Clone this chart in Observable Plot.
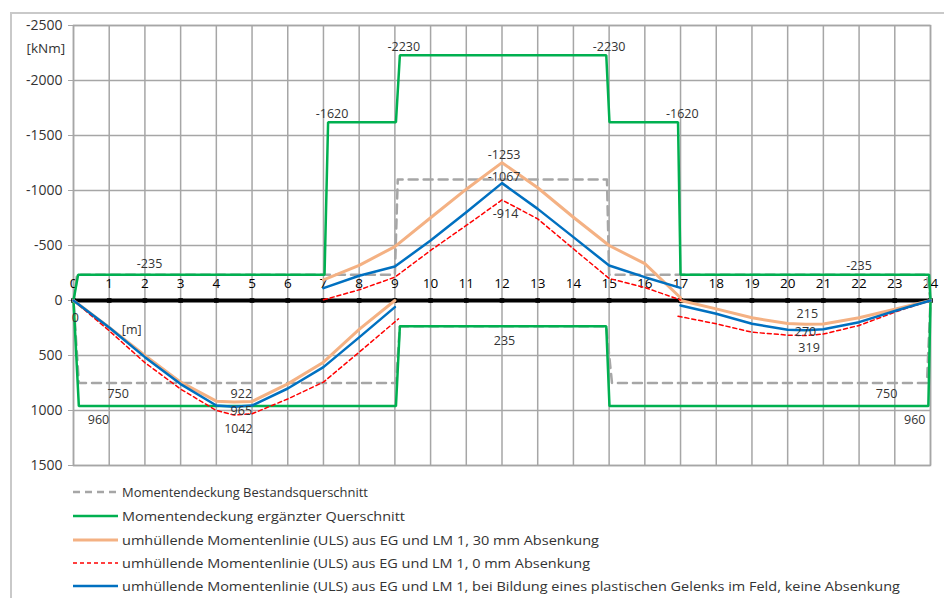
<!DOCTYPE html>
<html><head><meta charset="utf-8">
<script src="https://cdn.jsdelivr.net/npm/d3@7"></script>
<script src="https://cdn.jsdelivr.net/npm/@observablehq/plot@0.6"></script>
<style>
body{margin:0;background:#fff;width:944px;height:598px;overflow:hidden;position:relative;font-family:"Open Sans",sans-serif;}
#frame{position:absolute;left:10px;top:12px;width:1000px;height:1000px;border:2px solid #c9c9c9;box-sizing:border-box;}
#chart{position:absolute;left:0;top:0;}
#legend{position:absolute;left:0;top:480px;}
</style></head><body>
<div id="frame"></div><div id="chart"></div><div id="legend"></div>
<script>
// ---- data ----
const xTicks = d3.range(0, 25);
const yTicks = [-2500, -2000, -1500, -1000, -500, 0, 500, 1000, 1500];
const xLabelRow = -152;

// Momentendeckung ergänzter Querschnitt (green)
const greenX = [0, 0.13, 7.03, 7.13, 9.03, 9.14, 14.92, 15.01, 16.93, 17.0, 23.96, 24, 23.94, 15.01, 14.92, 9.14, 9.03, 0.15, 0];
const greenY = [0, -235, -235, -1620, -1620, -2230, -2230, -1620, -1620, -235, -235, 0, 960, 960, 235, 235, 960, 960, 0];

// Momentendeckung Bestandsquerschnitt (grey dashed)
const greyX = [0, 0.1, 9.0, 9.08, 14.94, 15.0, 23.9, 24, 23.9, 15.08, 14.92, 9.14, 9.03, 0.15, 0];
const greyY = [0, -235, -235, -1100, -1100, -235, -235, 0, 750, 750, 235, 235, 750, 750, 0];

// field 1 (0..9), support region (7..17), field 3 (17..24)
const xLeft = [0, 1, 2, 3, 4, 4.5, 5, 6, 7, 8, 9];
const xMid = [7, 8, 9, 10, 11, 12, 13, 14, 15, 16, 17];
const xRight = [17, 18, 19, 20, 20.5, 21, 22, 23, 24];
const xRedLeft = [0, 1, 2, 3, 4, 4.5, 5, 6, 7, 8, 9.1];
const xRedRight = [16.93, 18, 19, 20, 20.5, 21, 22, 23, 24];

// 30 mm Absenkung (orange)
const orangeLeft = [0, 245, 500, 742, 915, 922, 918, 758, 561, 262, 0];
const orangeMid = [-188, -320, -490, -752, -1012, -1253, -1025, -757, -500, -335, -25];
const orangeRight = [0, 76, 157, 210, 215, 213, 157, 80, 0];

// 0 mm Absenkung (red dashed)
const redLeft = [0, 275, 565, 805, 1000, 1042, 1030, 895, 742, 470, 167];
const redMid = [-6, -97, -212, -455, -682, -914, -742, -470, -200, -118, -5];
const redRight = [143, 212, 288, 315, 319, 305, 227, 106, 0];

// plastisches Gelenk (blue)
const blueLeft = [0, 245, 515, 760, 955, 965, 955, 800, 606, 335, 60];
const blueMid = [-112, -225, -309, -545, -803, -1067, -833, -576, -318, -212, -115];
const blueRight = [45, 121, 212, 265, 270, 262, 197, 95, 0];

// value annotations
const annText = ["-2230", "-2230", "-1620", "-1620", "-1253", "-1067", "-914", "-235", "-235", "235", "0", "750", "960", "922", "965", "1042", "215", "270", "319", "750", "960", "[m]"];
const annX = [9.25, 15.0, 7.24, 17.05, 12.06, 12.06, 12.1, 2.13, 22.0, 12.07, 0.05, 1.25, 0.7, 4.7, 4.7, 4.62, 20.55, 20.5, 20.6, 22.77, 23.56, 1.63];
const annY = [-2309, -2309, -1697, -1697, -1327, -1121, -788, -334, -318, 370, 157, 848, 1082, 848, 1005, 1172, 125, 285, 432, 848, 1082, 264];

const legendLabels = [
  "Momentendeckung Bestandsquerschnitt",
  "Momentendeckung ergänzter Querschnitt",
  "umhüllende Momentenlinie (ULS) aus EG und LM 1, 30 mm Absenkung",
  "umhüllende Momentenlinie (ULS) aus EG und LM 1, 0 mm Absenkung",
  "umhüllende Momentenlinie (ULS) aus EG und LM 1, bei Bildung eines plastischen Gelenks im Feld, keine Absenkung"
];

// ---- styles ----
const gridC = "#a6a6a6", textC = "#333333";
const cGreen = "#00b050", cOrange = "#f4b183", cRed = "#ff0000", cBlue = "#0070c0", cGrey = "#a6a6a6";

const pts = (xs, ys) => xs.map((x, i) => ({x, y: ys[i]}));
const line = (xs, ys, o) => Plot.line(pts(xs, ys), {x: "x", y: "y", ...o});

const chart = Plot.plot({
  width: 944, height: 480,
  marginLeft: 73, marginRight: 14, marginTop: 25, marginBottom: 15,
  x: {domain: [0, 24], axis: null},
  y: {domain: [1500, -2500], axis: null},
  style: {fontFamily: "'Open Sans', sans-serif", fontSize: "13px", color: textC, background: "transparent"},
  marks: [
    Plot.ruleX(xTicks, {x: d => d, stroke: gridC, strokeWidth: 1.5}),
    Plot.ruleY(yTicks, {y: d => d, stroke: gridC, strokeWidth: 1.5}),
    Plot.axisY({ticks: yTicks, tickSize: 5, tickPadding: 6, tickFormat: d => String(d), stroke: gridC, fill: textC, fontSize: 14, label: null}),
    Plot.frame({stroke: gridC, strokeWidth: 1.5}),
    Plot.text(["[kNm]"], {frameAnchor: "top-left", dx: -47, dy: 18, fill: textC, fontSize: 13.5, textAnchor: "start"}),
    Plot.ruleY([0], {stroke: "#000", strokeWidth: 4}),
    Plot.dot(xTicks, {x: d => d, y: () => 0, symbol: "square", r: 2.6, fill: "#000", stroke: "none"}),
    Plot.text(xTicks, {x: d => d, y: () => xLabelRow, text: d => String(d), fill: "#000", fontSize: 13.5}),
    line(greyX, greyY, {stroke: cGrey, strokeWidth: 2.5, strokeDasharray: "9,6"}),
    line(greenX, greenY, {stroke: cGreen, strokeWidth: 2.5, strokeLinejoin: "miter"}),
    line(xLeft, orangeLeft, {stroke: cOrange, strokeWidth: 3}),
    line(xMid, orangeMid, {stroke: cOrange, strokeWidth: 3}),
    line(xRight, orangeRight, {stroke: cOrange, strokeWidth: 3}),
    line(xRedLeft, redLeft, {stroke: cRed, strokeWidth: 1.5, strokeDasharray: "4,3"}),
    line(xMid, redMid, {stroke: cRed, strokeWidth: 1.5, strokeDasharray: "4,3"}),
    line(xRedRight, redRight, {stroke: cRed, strokeWidth: 1.5, strokeDasharray: "4,3"}),
    line(xLeft, blueLeft, {stroke: cBlue, strokeWidth: 2.5}),
    line(xMid, blueMid, {stroke: cBlue, strokeWidth: 2.5}),
    line(xRight, blueRight, {stroke: cBlue, strokeWidth: 2.5}),
    Plot.text(annText, {x: (d, i) => annX[i], y: (d, i) => annY[i], text: d => d, fill: textC, fontSize: 12.5, lineHeight: 1})
  ]
});
document.getElementById("chart").appendChild(chart);

// ---- legend ----
const legendStyles = [
  {stroke: cGrey, w: 2.5, dash: "7,5"},
  {stroke: cGreen, w: 2.5, dash: null},
  {stroke: cOrange, w: 3, dash: null},
  {stroke: cRed, w: 1.5, dash: "4,3"},
  {stroke: cBlue, w: 2.5, dash: null}
];
const legendRowsY = [12, 36, 60, 83, 106];
const legendTextW = [246, 283, 477, 468, 778];
const lsvg = d3.select("#legend").append("svg").attr("width", 944).attr("height", 118)
  .style("font-family", "'Open Sans', sans-serif");
legendLabels.forEach((t, i) => {
  const g = lsvg.append("g").attr("transform", `translate(0,${legendRowsY[i]})`);
  g.append("line").attr("x1", 73).attr("x2", 118).attr("y1", 0).attr("y2", 0)
    .attr("stroke", legendStyles[i].stroke).attr("stroke-width", legendStyles[i].w)
    .attr("stroke-dasharray", legendStyles[i].dash);
  g.append("text").attr("x", 122).attr("y", 0).attr("dy", "0.35em")
    .attr("font-size", 13.5).attr("fill", textC)
    .attr("textLength", legendTextW[i]).attr("lengthAdjust", "spacingAndGlyphs")
    .text(t);
});
</script></body></html>
